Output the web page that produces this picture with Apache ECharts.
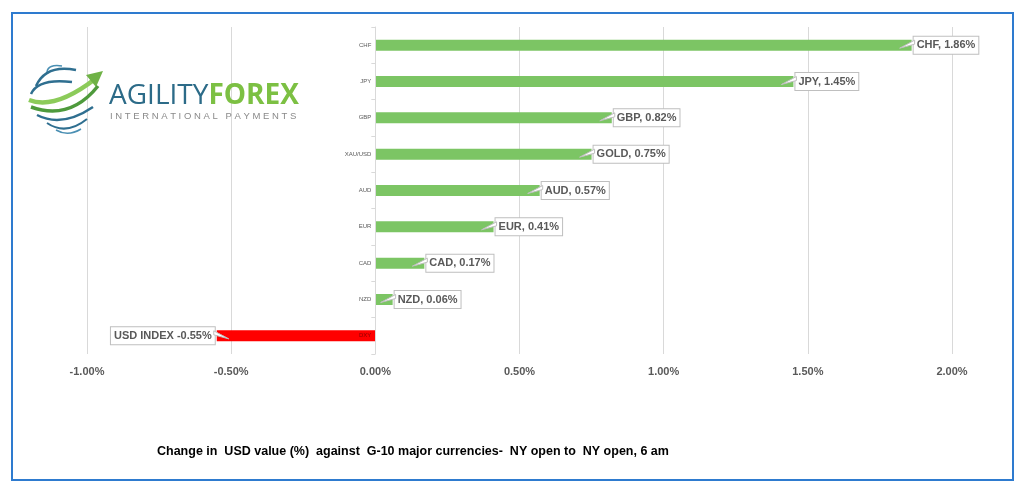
<!DOCTYPE html>
<html>
<head>
<meta charset="utf-8">
<script src="https://cdn.jsdelivr.net/npm/echarts@6/dist/echarts.min.js"></script>
<style>
html,body{margin:0;padding:0;background:#fff;}
#main{width:1024px;height:488px;}
</style>
</head>
<body>
<div id="main"></div>
<script>
// ---- data ----
var categories = ['CHF', 'JPY', 'GBP', 'XAU/USD', 'AUD', 'EUR', 'CAD', 'NZD', 'DXY'];
var values = [1.86, 1.45, 0.82, 0.75, 0.57, 0.41, 0.17, 0.06, -0.55];
var labelNames = ['CHF, 1.86%', 'JPY, 1.45%', 'GBP, 0.82%', 'GOLD, 0.75%', 'AUD, 0.57%', 'EUR, 0.41%', 'CAD, 0.17%', 'NZD, 0.06%', 'USD INDEX -0.55%'];
var xTicks = [-1.0, -0.5, 0, 0.5, 1.0, 1.5, 2.0];
var footTitle = 'Change in  USD value (%)  against  G-10 major currencies-  NY open to  NY open, 6 am';

var chart = echarts.init(document.getElementById('main'), null, {renderer: 'canvas'});

var FONT = '"Liberation Sans", Arial, sans-serif';

var option = {
  animation: false,
  backgroundColor: '#ffffff',
  grid: {left: 87, right: 72, top: 27, bottom: 134, containLabel: false},
  xAxis: {
    type: 'value',
    min: xTicks[0],
    max: xTicks[xTicks.length - 1],
    interval: 0.5,
    axisLine: {show: false},
    axisTick: {show: false},
    splitLine: {show: true, lineStyle: {color: '#d9d9d9', width: 1}},
    axisLabel: {
      margin: 12,
      fontFamily: FONT, fontSize: 11, fontWeight: 'bold', color: '#595959',
      formatter: function (v) { return v.toFixed(2) + '%'; }
    }
  },
  yAxis: {
    type: 'category',
    inverse: true,
    data: categories,
    axisLine: {show: true, onZero: true, lineStyle: {color: '#d9d9d9'}},
    axisTick: {show: true, length: 4, lineStyle: {color: '#d9d9d9'}},
    axisLabel: {show: false},
    z: 5
  },
  series: [
    {
      type: 'bar',
      data: values.map(function (v, i) {
        return {
          value: v,
          itemStyle: {color: v < 0 ? '#ff0000' : '#7cc564'},
          label: {position: v < 0 ? 'left' : 'right'}
        };
      }),
      barWidth: 11,
      z: 2,
      label: {
        show: true,
        distance: 2,
        fontFamily: FONT,
        fontSize: 11,
        fontWeight: 'bold',
        color: '#595959',
        backgroundColor: '#ffffff',
        borderColor: '#bfbfbf',
        borderWidth: 1,
        padding: [3, 3, 3, 3],
        formatter: function (p) { return labelNames[p.dataIndex]; }
      }
    },
    {
      type: 'custom',
      z: 3,
      silent: true,
      data: values.map(function (v, i) { return [v, i]; }),
      renderItem: function (params, api) {
        var v = api.value(0);
        var pt = api.coord([v, api.value(1)]);
        var dir = v < 0 ? -1 : 1;
        var x = pt[0], y = pt[1];
        return {
          type: 'polygon',
          shape: {points: [[x - dir * 12, y + 3], [x + dir * 3, y - 5], [x + dir * 3, y - 1]]},
          style: {fill: '#ffffff', stroke: '#bfbfbf', lineWidth: 1}
        };
      }
    },
    {
      // category labels sitting on the zero line
      type: 'custom',
      z: 10,
      silent: true,
      clip: false,
      data: categories.map(function (c, i) { return [0, i]; }),
      renderItem: function (params, api) {
        var i = params.dataIndex;
        var pt = api.coord([0, api.value(1)]);
        return {
          type: 'text',
          z2: 100,
          x: pt[0] - 4,
          y: pt[1],
          style: {
            text: categories[i],
            textAlign: 'right',
            textVerticalAlign: 'middle',
            verticalAlign: 'middle',
            align: 'right',
            font: '6px ' + FONT,
            fill: values[i] < 0 ? '#8b0000' : '#595959'
          }
        };
      }
    }
  ],
  graphic: [
    // outer blue frame
    {type: 'rect', shape: {x: 12, y: 13, width: 1001, height: 467}, style: {fill: 'none', stroke: '#2e7bcf', lineWidth: 2}, z: 100},
    // footer text
    {type: 'text', left: 157, top: 445, style: {text: footTitle, fontFamily: FONT, fontSize: 12.5, fontWeight: 'bold', fill: '#000000'}, z: 100},
    // logo text
    {type: 'text', left: 109, top: 82, z: 100, style: {
      text: '{a|AGILITY}{b|FOREX}',
      rich: {
        a: {fontFamily: '"Open Sans", sans-serif', fontSize: 28, fontWeight: 'normal', fill: '#2c6b88', color: '#2c6b88'},
        b: {fontFamily: '"Open Sans", sans-serif', fontSize: 28, fontWeight: 'bold', fill: '#7cc043', color: '#7cc043'}
      }
    }},
    {type: 'text', left: 110, top: 111, z: 100, style: {text: 'I N T E R N A T I O N A L   P A Y M E N T S', fontFamily: FONT, fontSize: 9.5, fill: '#8a8a8a'}},
    // logo globe swirls
    {type: 'bezierCurve', z: 100, shape: {x1: 47, y1: 72, x2: 62, y2: 66, cpx1: 48, cpy1: 64}, style: {stroke: '#4a8fb3', lineWidth: 1.5, fill: 'none'}},
    {type: 'bezierCurve', z: 100, shape: {x1: 36, y1: 86, x2: 76, y2: 70, cpx1: 46, cpy1: 64}, style: {stroke: '#2f6f90', lineWidth: 2.5, fill: 'none'}},
    {type: 'bezierCurve', z: 100, shape: {x1: 31, y1: 94, x2: 72, y2: 82, cpx1: 38, cpy1: 78}, style: {stroke: '#2f6f90', lineWidth: 2.5, fill: 'none'}},
    {type: 'bezierCurve', z: 100, shape: {x1: 29, y1: 100, x2: 95, y2: 79, cpx1: 55, cpy1: 110}, style: {stroke: '#8ccb5a', lineWidth: 4.5, fill: 'none'}},
    {type: 'polygon', z: 100, shape: {points: [[86, 75], [103, 71], [96, 87]]}, style: {fill: '#6fb246'}},
    {type: 'bezierCurve', z: 100, shape: {x1: 31, y1: 107, x2: 98, y2: 86, cpx1: 70, cpy1: 121}, style: {stroke: '#4e9a3c', lineWidth: 3.5, fill: 'none'}},
    {type: 'bezierCurve', z: 100, shape: {x1: 37, y1: 115, x2: 93, y2: 107, cpx1: 62, cpy1: 128}, style: {stroke: '#2f6f90', lineWidth: 2.5, fill: 'none'}},
    {type: 'bezierCurve', z: 100, shape: {x1: 47, y1: 123, x2: 87, y2: 119, cpx1: 66, cpy1: 136}, style: {stroke: '#2f6f90', lineWidth: 2, fill: 'none'}},
    {type: 'bezierCurve', z: 100, shape: {x1: 56, y1: 130, x2: 81, y2: 129, cpx1: 68, cpy1: 137}, style: {stroke: '#4a8fb3', lineWidth: 1.5, fill: 'none'}}
  ]
};
chart.setOption(option);
</script>
</body>
</html>
